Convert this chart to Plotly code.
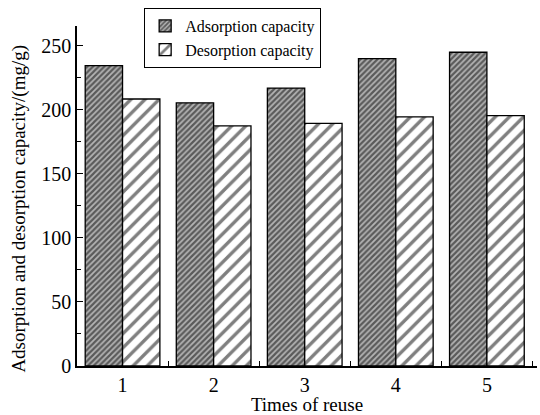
import plotly.graph_objects as go

reuse_times = [1, 2, 3, 4, 5]
tick_labels = ["1", "2", "3", "4", "5"]
adsorption = [234.5, 205.5, 217, 240, 245]
desorption = [208.5, 187.5, 189.5, 194.5, 195.5]
y_ticks = [0, 50, 100, 150, 200, 250]

FONT = "Liberation Serif"

fig = go.Figure()
fig.add_trace(go.Bar(
    x=reuse_times, y=adsorption, name="Adsorption capacity",
    marker=dict(color="#777777", line=dict(color="black", width=1.3),
                pattern=dict(shape="/", bgcolor="#b4b4b4", fgcolor="black",
                             size=4, solidity=0.55)),
))
fig.add_trace(go.Bar(
    x=reuse_times, y=desorption, name="Desorption capacity",
    marker=dict(color="white", line=dict(color="black", width=1.3),
                pattern=dict(shape="/", bgcolor="white", fgcolor="black",
                             size=10, solidity=0.34)),
))

fig.update_layout(
    width=540, height=415,
    margin=dict(l=77, r=3, t=26, b=49),
    paper_bgcolor="white", plot_bgcolor="white",
    barmode="group", bargap=0.18, bargroupgap=0,
    font=dict(family=FONT, color="black", size=20),
    legend=dict(x=0.146, y=1.053, xanchor="left", yanchor="top",
                bordercolor="black", borderwidth=1, bgcolor="white",
                font=dict(family=FONT, size=16), tracegroupgap=0),
    xaxis=dict(range=[0.5, 5.55], tickvals=reuse_times, ticktext=tick_labels,
               showline=True, linecolor="black", linewidth=1.5,
               ticks="", showgrid=False, zeroline=False,
               tickfont=dict(size=20),
               minor=dict(tickvals=[1.5, 2.5, 3.5, 4.5, 5.5], ticks="inside",
                          ticklen=5, tickcolor="black", tickwidth=1.2, showgrid=False),
               title=dict(text="Times of reuse", font=dict(size=19), standoff=2)),
    yaxis=dict(range=[0, 265.5], tickvals=y_ticks,
               showline=True, linecolor="black", linewidth=1.5,
               ticks="inside", ticklen=6, tickcolor="black", tickwidth=1.2,
               showgrid=False, zeroline=False, tickfont=dict(size=20),
               minor=dict(dtick=25, tick0=0, ticks="inside", ticklen=4,
                          tickcolor="black", tickwidth=1.2, showgrid=False)),
    annotations=[dict(text="Adsorption and desorption capacity/(mg/g)",
                      xref="paper", yref="paper", x=-0.126, y=0.463,
                      xanchor="center", yanchor="middle", textangle=-90,
                      showarrow=False, font=dict(family=FONT, size=19))],
)

fig.write_html("out.html")
